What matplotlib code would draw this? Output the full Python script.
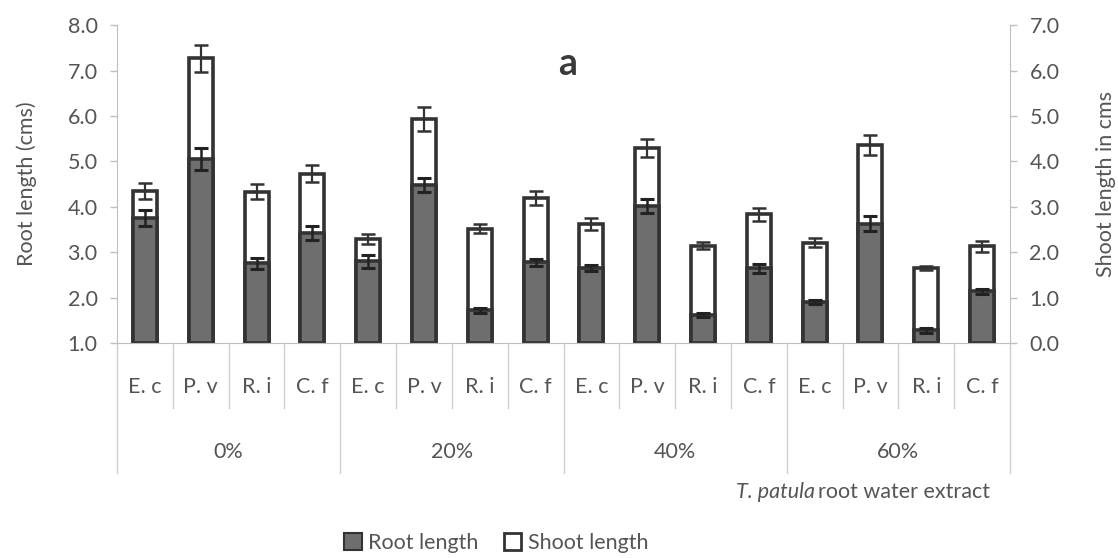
import numpy as np
import matplotlib.pyplot as plt
from matplotlib.patches import Patch
from matplotlib.transforms import blended_transform_factory

plt.rcParams['font.family'] = ['Lato', 'DejaVu Sans']

species = ["E. c", "P. v", "R. i", "C. f"]
doses = ["0%", "20%", "40%", "60%"]

# root length (cms), left axis
root = [3.75, 5.05, 2.76, 3.42,
        2.80, 4.48, 1.72, 2.78,
        2.65, 4.02, 1.61, 2.65,
        1.90, 3.63, 1.28, 2.14]
root_err = [0.17, 0.24, 0.12, 0.16,
            0.14, 0.16, 0.05, 0.08,
            0.06, 0.15, 0.04, 0.10,
            0.05, 0.17, 0.05, 0.05]

# shoot length in cms, right axis
shoot = [3.35, 6.27, 3.33, 3.73,
         2.29, 4.93, 2.52, 3.19,
         2.62, 4.29, 2.14, 2.83,
         2.21, 4.36, 1.65, 2.13]
shoot_err = [0.17, 0.30, 0.17, 0.18,
             0.12, 0.26, 0.10, 0.16,
             0.13, 0.20, 0.08, 0.14,
             0.10, 0.22, 0.05, 0.12]

TXT = "#555555"
EDGE = "#333333"
AXC = "#bfbfbf"
FS = 15.5

x = np.arange(len(root))
w = 0.43

fig = plt.figure(figsize=(11.18, 5.58), dpi=100)
ax = fig.add_axes([0.1047, 0.3853, 0.7987, 0.5697])
ax2 = ax.twinx()
# root bars sit in front of the shoot bars
ax.set_zorder(ax2.get_zorder() + 1)
ax.patch.set_visible(False)

ax2.bar(x, shoot, w, bottom=0, color="white", edgecolor=EDGE, linewidth=2.6)
ax2.errorbar(x, shoot, yerr=shoot_err, fmt="none", ecolor=EDGE,
             elinewidth=1.6, capsize=5, capthick=1.8)

ax.bar(x, np.array(root) - 1.0, w, bottom=1.0, color="#6e6e6e",
       edgecolor=EDGE, linewidth=2.6)
ax.errorbar(x, root, yerr=root_err, fmt="none", ecolor="#222222",
            elinewidth=1.8, capsize=5, capthick=2.2)

ax.set_xlim(-0.5, len(x) - 0.5)
ax.set_ylim(1.0, 8.0)
ax2.set_ylim(0.0, 7.0)
ax.set_yticks(np.arange(1, 9))
ax2.set_yticks(np.arange(0, 8))
ax.set_yticklabels([f"{v:.1f}" for v in range(1, 9)])
ax2.set_yticklabels([f"{v:.1f}" for v in range(0, 8)])

for a in (ax, ax2):
    for s in a.spines.values():
        s.set_visible(False)
    a.tick_params(axis="y", colors=AXC, labelcolor=TXT, labelsize=FS,
                  length=5, width=1, pad=9)
ax.spines["left"].set_visible(True)
ax.spines["left"].set_color(AXC)
ax2.spines["right"].set_visible(True)
ax2.spines["right"].set_color(AXC)
ax.spines["bottom"].set_visible(True)
ax.spines["bottom"].set_color(AXC)
ax.set_xticks([])

ax.set_ylabel("Root length (cms)", fontsize=FS, color=TXT, labelpad=22)
ax2.set_ylabel("Shoot length in cms", fontsize=FS, color=TXT, labelpad=26)

# two-level category axis below the plot
tr = blended_transform_factory(ax.transData, ax.transAxes)
for i in x:
    ax.text(i, -0.138, species[i % 4], transform=tr, ha="center",
            va="center", fontsize=FS, color=TXT)
for b in np.arange(-0.5, len(x), 1.0):
    group_edge = int(b + 0.5) % 4 == 0
    y_end = -0.41 if group_edge else -0.205
    ax.plot([b, b], [0, y_end], transform=tr, color="#d0d0d0", lw=1,
            clip_on=False)
for g, d in enumerate(doses):
    ax.text(g * 4 + 1.5, -0.343, d, transform=tr, ha="center", va="center",
            fontsize=FS, color=TXT)

fig.text(0.5075, 0.886, "a", ha="center", va="center", fontsize=27,
         fontweight="bold", color="#3a3a3a")

xt = fig.text(0.8855, 0.118, "root water extract", ha="right", va="center",
              fontsize=FS, color=TXT)
fig.canvas.draw()
bb = xt.get_window_extent()
fig.text(bb.x0 / fig.bbox.width - 0.003, 0.118, "T. patula", ha="right",
         va="center", fontsize=FS, color=TXT, style="italic")

handles = [Patch(facecolor="#6e6e6e", edgecolor=EDGE, linewidth=1.5),
           Patch(facecolor="white", edgecolor=EDGE, linewidth=2)]
fig.legend(handles, ["Root length", "Shoot length"], loc="center",
           bbox_to_anchor=(0.444, 0.027), ncol=2, frameon=False,
           fontsize=FS, labelcolor=TXT, handlelength=0.8,
           handleheight=0.8, handletextpad=0.3, columnspacing=1.2)

fig.savefig("out.png", dpi=100)
